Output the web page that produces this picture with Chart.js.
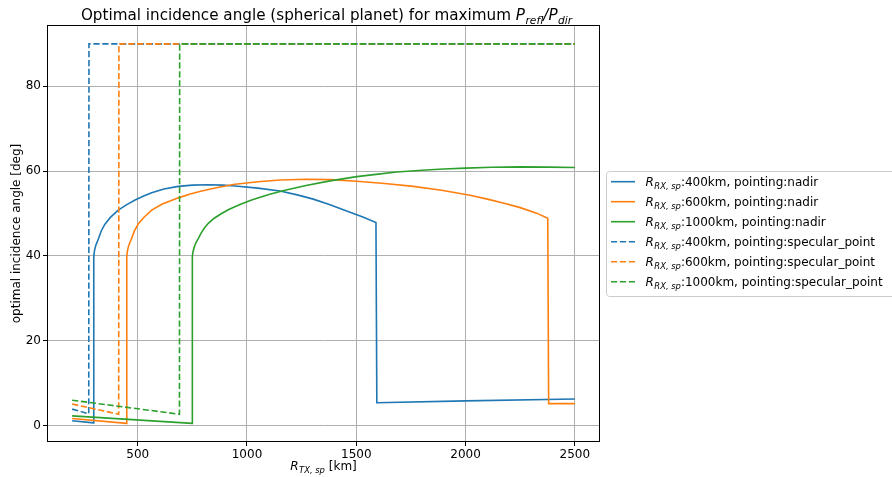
<!DOCTYPE html>
<html>
<head>
<meta charset="utf-8">
<script src="https://cdn.jsdelivr.net/npm/chart.js@4/dist/chart.umd.min.js"></script>
<style>
  html, body { margin: 0; padding: 0; background: #fff; }
  canvas { display: block; }
</style>
</head>
<body>
<canvas id="chart" width="892" height="477"></canvas>
<script>
// Receiver-to-specular-point distances and pointing modes
const altitudes = ['400km', '600km', '1000km'];
const pointings = ['nadir', 'specular_point'];

// Transmitter-to-specular-point range [km] and optimal incidence angle [deg]
const range400Nadir = [200, 298, 299, 302, 308, 320, 333, 350, 375, 411, 450, 488, 530, 564, 620, 686, 750, 823,
                       890, 945, 1050, 1151, 1230, 1303, 1380, 1456, 1530, 1590, 1594, 2000, 2500];
const angle400Nadir = [1.15, 0.65, 39.9, 41.2, 42.5, 44.0, 45.9, 47.5, 49.1, 50.8, 52.1, 53.2, 54.2, 54.9, 55.8, 56.4, 56.7, 56.8,
                       56.7, 56.5, 56.0, 55.3, 54.4, 53.4, 52.1, 50.6, 49.2, 47.9, 5.4, 5.85, 6.3];

const range600Nadir = [200, 449, 450, 453, 459, 471, 485, 503, 530, 564, 610, 686, 740, 793, 870, 945, 1050, 1151,
                       1270, 1380, 1502, 1630, 1761, 1890, 2020, 2100, 2172, 2250, 2325, 2376, 2380, 2500];
const angle600Nadir = [1.7, 0.55, 39.9, 41.2, 42.5, 44.0, 45.9, 47.6, 49.2, 50.8, 52.2, 53.7, 54.6, 55.3, 56.2, 56.9, 57.5, 57.9,
                       58.1, 58.0, 57.6, 57.1, 56.4, 55.5, 54.3, 53.4, 52.5, 51.4, 50.1, 48.9, 5.2, 5.2];

const range1000Nadir = [200, 749, 750, 753, 760, 768, 777, 790, 805, 823, 850, 880, 914, 965, 1021, 1100, 1174, 1270,
                        1380, 1502, 1600, 1685, 1800, 1900, 2000, 2120, 2250, 2380, 2500];
const angle1000Nadir = [2.3, 0.55, 39.9, 41.0, 42.3, 43.3, 44.1, 45.4, 46.6, 47.7, 48.9, 49.9, 50.9, 52.1, 53.2, 54.5, 55.5, 56.6,
                        57.7, 58.7, 59.3, 59.8, 60.2, 60.5, 60.7, 60.9, 61.0, 60.95, 60.85];

const range400Spec = [200, 276, 277, 2500];
const angle400Spec = [3.9, 2.8, 90, 90];

const range600Spec = [200, 413, 414, 2500];
const angle600Spec = [5.1, 2.7, 90, 90];

const range1000Spec = [200, 691, 692, 2500];
const angle1000Spec = [6.0, 2.7, 90, 90];

// Axis ticks
const xTicks = [500, 1000, 1500, 2000, 2500];
const yTicks = [0, 20, 40, 60, 80];

const FONT = '"DejaVu Sans", "Liberation Sans", sans-serif';
const COLORS = ['#1f77b4', '#ff7f0e', '#2ca02c'];

function points(xs, ys) {
  return xs.map((x, i) => ({ x: x, y: ys[i] }));
}

const seriesData = [
  [range400Nadir, angle400Nadir],
  [range600Nadir, angle600Nadir],
  [range1000Nadir, angle1000Nadir],
  [range400Spec, angle400Spec],
  [range600Spec, angle600Spec],
  [range1000Spec, angle1000Spec]
];

const datasets = seriesData.map((s, i) => {
  const alt = altitudes[i % 3];
  const mode = pointings[Math.floor(i / 3)];
  const dashed = mode !== 'nadir';
  return {
    label: ':' + alt + ', pointing:' + mode,
    data: points(s[0], s[1]),
    borderColor: COLORS[i % 3],
    backgroundColor: COLORS[i % 3],
    borderWidth: 1.6,
    borderDash: dashed ? [6.2, 2.7] : [],
    pointRadius: 0,
    fill: false,
    tension: 0,
    order: 6 - i
  };
});

// Text with italic symbol and subscript, in the style of math labels
function drawRich(ctx, parts, x, y, size, align) {
  let total = 0;
  const items = parts.map(p => {
    const s = p.sub ? size * 0.7 : size;
    const f = (p.italic ? 'italic ' : '') + s + 'px ' + FONT;
    ctx.font = f;
    const w = ctx.measureText(p.t).width + (p.gap || 0);
    total += w;
    return { t: p.t, f: f, w: w, dy: p.sub ? size * 0.28 : 0 };
  });
  let cx = align === 'center' ? x - total / 2 : x;
  ctx.textAlign = 'left';
  ctx.textBaseline = 'alphabetic';
  items.forEach(it => {
    ctx.font = it.f;
    ctx.fillText(it.t, cx, y + it.dy);
    cx += it.w;
  });
}

const decorations = {
  id: 'decorations',
  afterDraw(chart) {
    const ctx = chart.ctx;
    const a = chart.chartArea;
    ctx.save();

    // axes frame
    ctx.strokeStyle = '#000';
    ctx.lineWidth = 1;
    ctx.strokeRect(Math.round(a.left) + 0.5, Math.round(a.top) + 0.5,
                   Math.round(a.right - a.left) - 1, Math.round(a.bottom - a.top) - 1);

    ctx.fillStyle = '#000';
    const cx = (a.left + a.right) / 2;

    // title
    drawRich(ctx, [
      { t: 'Optimal incidence angle (spherical planet) for maximum ' },
      { t: 'P', italic: true, gap: 0.5 },
      { t: 'refl', italic: true, sub: true },
      { t: '/', italic: true },
      { t: 'P', italic: true, gap: 0.5 },
      { t: 'dir', italic: true, sub: true }
    ], cx + 3, 20, 15.2, 'center');

    // x axis label
    drawRich(ctx, [
      { t: 'R', italic: true, gap: 0.5 },
      { t: 'TX, sp', italic: true, sub: true },
      { t: ' [km]' }
    ], cx, 470, 12, 'center');

    // y axis label
    ctx.save();
    ctx.translate(17, (a.top + a.bottom) / 2);
    ctx.rotate(-Math.PI / 2);
    ctx.font = '12px ' + FONT;
    ctx.textAlign = 'center';
    ctx.textBaseline = 'middle';
    ctx.fillText('optimal incidence angle [deg]', 0, 0);
    ctx.restore();

    // legend
    const lx = 606, ly = 171, lw = 300, lh = 125;
    ctx.beginPath();
    ctx.roundRect(lx + 0.5, ly + 0.5, lw, lh, 3);
    ctx.fillStyle = 'rgba(255,255,255,0.8)';
    ctx.fill();
    ctx.strokeStyle = '#cccccc';
    ctx.lineWidth = 1;
    ctx.stroke();

    chart.data.datasets.forEach((ds, i) => {
      const yc = 181.7 + 20 * i;
      ctx.beginPath();
      ctx.setLineDash(ds.borderDash);
      ctx.strokeStyle = ds.borderColor;
      ctx.lineWidth = ds.borderWidth;
      ctx.moveTo(611, yc);
      ctx.lineTo(635, yc);
      ctx.stroke();
      ctx.setLineDash([]);
      ctx.fillStyle = '#000';
      drawRich(ctx, [
        { t: 'R', italic: true, gap: 0.5 },
        { t: 'RX, sp', italic: true, sub: true },
        { t: ds.label }
      ], 645.5, yc + 4.3, 12, 'left');
    });

    ctx.restore();
  }
};

const tickFont = { family: FONT, size: 12 };

new Chart(document.getElementById('chart'), {
  type: 'line',
  data: { datasets: datasets },
  options: {
    responsive: false,
    animation: false,
    devicePixelRatio: 1,
    layout: { padding: { left: 0, top: 25, right: 292, bottom: 0 } },
    scales: {
      x: {
        type: 'linear',
        min: 85,
        max: 2615,
        afterFit(scale) { scale.height = 35; },
        afterBuildTicks(scale) { scale.ticks = xTicks.map(v => ({ value: v })); },
        grid: { color: '#b0b0b0', lineWidth: 1, drawTicks: true, tickLength: 4, tickColor: '#000', tickWidth: 1 },
        border: { display: false },
        ticks: { font: tickFont, color: '#000', padding: 2, maxRotation: 0, autoSkip: false,
                 callback: v => String(v) }
      },
      y: {
        type: 'linear',
        min: -3.85,
        max: 94.45,
        afterFit(scale) { scale.width = 47; },
        afterBuildTicks(scale) { scale.ticks = yTicks.map(v => ({ value: v })); },
        grid: { color: '#b0b0b0', lineWidth: 1, drawTicks: true, tickLength: 4, tickColor: '#000', tickWidth: 1 },
        border: { display: false },
        ticks: { font: tickFont, color: '#000', padding: 2, autoSkip: false,
                 callback: v => String(v) }
      }
    },
    plugins: {
      legend: { display: false },
      title: { display: false },
      tooltip: { enabled: false }
    }
  },
  plugins: [decorations]
});
</script>
</body>
</html>
